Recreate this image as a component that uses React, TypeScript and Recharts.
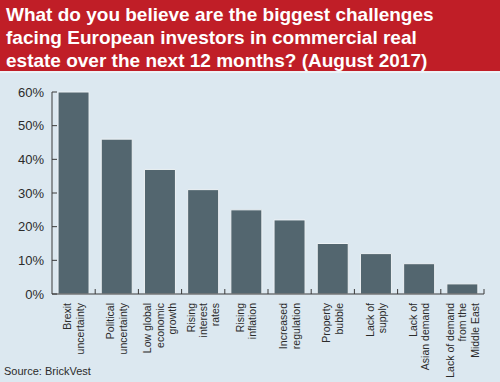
import React from "react";
import { Bar, BarChart, XAxis, YAxis } from "recharts";

// Etiquetas de categoría (\n = salto de línea en la etiqueta rotada)
const categories = [
  "Brexit\nuncertainty",
  "Political\nuncertainty",
  "Low global\neconomic\ngrowth",
  "Rising\ninterest\nrates",
  "Rising\ninflation",
  "Increased\nregulation",
  "Property\nbubble",
  "Lack of\nsupply",
  "Lack of\nAsian demand",
  "Lack of demand\nfrom the\nMiddle East",
];
const shares = [60, 46, 37, 31, 25, 22, 15, 12, 9, 3];
const yTicks = [0, 10, 20, 30, 40, 50, 60];

const data = categories.map((name, i) => ({ name, value: shares[i] }));

const W = 500;
const H = 382;
const PLOT_LEFT = 52;
const PLOT_RIGHT = 484;
const PLOT_TOP = 92;
const PLOT_BOTTOM = 294;
const Y_AXIS_W = 44;
const X_AXIS_H = 80;
const CAT_W = (PLOT_RIGHT - PLOT_LEFT) / categories.length;

const AXIS = "#3a3a3a";
const TEXT = "#2b2b2b";
const FONT = "'Liberation Sans', Arial, sans-serif";

const XTick = (props: any) => {
  const { x, payload } = props;
  const lines = String(payload.value).split("\n");
  const n = lines.length;
  return (
    <g>
      <line
        x1={x + CAT_W / 2}
        x2={x + CAT_W / 2}
        y1={PLOT_BOTTOM}
        y2={PLOT_BOTTOM - 5}
        stroke={AXIS}
        strokeWidth={1}
      />
      <g transform={`translate(${x},${PLOT_BOTTOM + 9})`}>
        <text
          transform="rotate(-90)"
          textAnchor="end"
          fontSize={10.5}
          fontFamily={FONT}
          fill={TEXT}
        >
          {lines.map((l, i) => (
            <tspan key={i} x={0} y={(i - (n - 1) / 2) * 12.5 + 3.8}>
              {l}
            </tspan>
          ))}
        </text>
      </g>
    </g>
  );
};

const YTick = (props: any) => {
  const { y, payload } = props;
  return (
    <g>
      <line
        x1={PLOT_LEFT}
        x2={PLOT_LEFT + 5}
        y1={y}
        y2={y}
        stroke={AXIS}
        strokeWidth={1}
      />
      <text
        x={PLOT_LEFT - 8}
        y={y}
        dy={4.5}
        textAnchor="end"
        fontSize={13}
        fontFamily={FONT}
        fill={TEXT}
      >
        {payload.value}%
      </text>
    </g>
  );
};

export default function App() {
  return (
    <div
      style={{
        position: "absolute",
        left: 0,
        top: 0,
        width: W,
        height: H,
        background: "#dce8f0",
        overflow: "hidden",
        fontFamily: FONT,
      }}
    >
      <BarChart
        width={W}
        height={H}
        data={data}
        barCategoryGap="14%"
        margin={{
          top: PLOT_TOP,
          right: W - PLOT_RIGHT,
          left: PLOT_LEFT - Y_AXIS_W,
          bottom: H - PLOT_BOTTOM - X_AXIS_H,
        }}
      >
        <XAxis
          dataKey="name"
          interval={0}
          height={X_AXIS_H}
          axisLine={{ stroke: AXIS, strokeWidth: 1 }}
          tickLine={false}
          tick={<XTick />}
        />
        <YAxis
          width={Y_AXIS_W}
          domain={[0, 60]}
          ticks={yTicks}
          axisLine={{ stroke: AXIS, strokeWidth: 1 }}
          tickLine={false}
          tick={<YTick />}
        />
        <Bar
          dataKey="value"
          fill="#53666f"
          stroke="#edf2f5"
          strokeWidth={1}
          isAnimationActive={false}
        />
      </BarChart>

      <div
        style={{
          position: "absolute",
          left: 0,
          top: 0,
          width: W,
          height: 73,
          background: "#c01e27",
          borderBottom: "2px solid #edf3f7",
          color: "#ffffff",
          fontWeight: "bold",
          fontSize: 19,
          lineHeight: "23px",
          padding: "3px 0 0 6px",
          boxSizing: "border-box",
        }}
      >
        What do you believe are the biggest challenges
        <br />
        facing European investors in commercial real
        <br />
        estate over the next 12 months? (August 2017)
      </div>

      <div
        style={{
          position: "absolute",
          left: 4,
          top: 365,
          fontSize: 11,
          color: TEXT,
        }}
      >
        Source: BrickVest
      </div>
    </div>
  );
}
